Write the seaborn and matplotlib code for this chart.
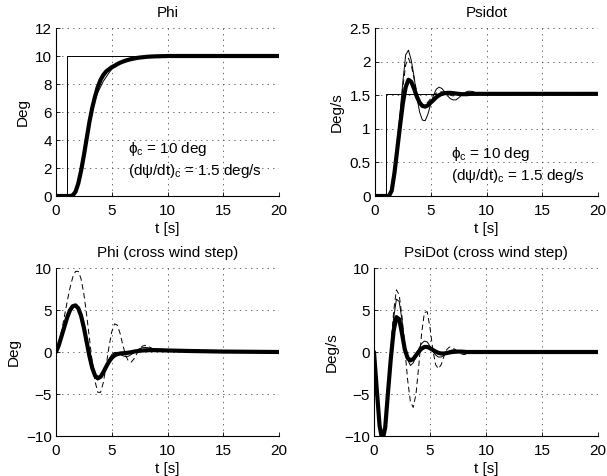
import numpy as np
import matplotlib
matplotlib.use("Agg")
import matplotlib.pyplot as plt
import seaborn as sns

# ---------------- data ----------------
T = [0, 0.25, 0.5, 0.75, 1.0, 1.25, 1.5, 1.75, 2.0, 2.25, 2.5, 2.75, 3.0, 3.25, 3.5, 3.75,
     4.0, 4.25, 4.5, 4.75, 5.0, 5.25, 5.5, 5.75, 6.0, 6.25, 6.5, 6.75, 7.0, 7.25, 7.5, 7.75,
     8.0, 8.25, 8.5, 8.75, 9.0, 9.25, 9.5, 9.75, 10.0, 12.0, 15.0, 20.0]

step_t = [0, 1, 1, 20]
phi_cmd = [0, 0, 10, 10]
psidot_cmd = [0, 0, 1.52, 1.52]

# Phi step response
phi_thick = [0, 0, 0, 0, 0, 0, 0.05, 0.3, 0.9, 1.8, 2.9, 4.1, 5.3, 6.3, 7.1, 7.8,
             8.3, 8.65, 8.9, 9.05, 9.2, 9.3, 9.42, 9.52, 9.6, 9.67, 9.73, 9.78, 9.82, 9.86, 9.89, 9.91,
             9.93, 9.95, 9.96, 9.97, 9.98, 9.98, 9.99, 9.99, 10, 10, 10, 10]
phi_thin = [0, 0, 0, 0, 0, 0, 0.05, 0.3, 0.9, 1.8, 2.9, 4.1, 5.3, 6.2, 6.9, 7.4,
            7.8, 8.2, 8.5, 8.8, 9.05, 9.25, 9.4, 9.5, 9.58, 9.66, 9.72, 9.77, 9.81, 9.85, 9.88, 9.9,
            9.92, 9.94, 9.95, 9.96, 9.97, 9.98, 9.99, 9.99, 10, 10, 10, 10]
phi_dash = [0, 0, 0, 0, 0, 0, 0.05, 0.3, 0.9, 1.8, 2.9, 4.1, 5.3, 6.3, 7.2, 7.9,
            8.4, 8.7, 8.9, 9.05, 9.18, 9.3, 9.42, 9.52, 9.6, 9.67, 9.73, 9.78, 9.82, 9.86, 9.89, 9.91,
            9.93, 9.95, 9.96, 9.97, 9.98, 9.98, 9.99, 9.99, 10, 10, 10, 10]

# Psidot step response
psidot_thick = [0, 0, 0, 0, 0, 0, 0.08, 0.35, 0.7, 1.05, 1.38, 1.62, 1.73, 1.7, 1.6, 1.48,
                1.39, 1.34, 1.33, 1.35, 1.39, 1.43, 1.47, 1.5, 1.52, 1.53, 1.535, 1.535, 1.53, 1.525, 1.52, 1.515,
                1.515, 1.515, 1.52, 1.52, 1.52, 1.52, 1.52, 1.52, 1.52, 1.52, 1.52, 1.52]
psidot_thin = [0, 0, 0, 0, 0, 0, 0.08, 0.37, 0.78, 1.25, 1.7, 2.1, 2.17, 2.02, 1.78, 1.48,
               1.25, 1.13, 1.12, 1.22, 1.37, 1.5, 1.59, 1.62, 1.6, 1.55, 1.49, 1.45, 1.43, 1.43, 1.46, 1.5,
               1.53, 1.555, 1.56, 1.555, 1.54, 1.53, 1.515, 1.51, 1.51, 1.52, 1.52, 1.52]
psidot_dash = [0, 0, 0, 0, 0, 0, 0.08, 0.36, 0.75, 1.2, 1.62, 1.95, 2.05, 1.95, 1.75, 1.55,
               1.42, 1.36, 1.36, 1.4, 1.45, 1.5, 1.53, 1.55, 1.55, 1.54, 1.52, 1.5, 1.49, 1.495, 1.5, 1.51,
               1.52, 1.525, 1.525, 1.52, 1.52, 1.52, 1.52, 1.52, 1.52, 1.52, 1.52, 1.52]

# Phi cross wind step
phiw_thick = [0, 0.8, 1.9, 3.0, 4.1, 4.95, 5.45, 5.55, 5.2, 4.3, 2.9, 1.2, -0.5, -1.9, -2.8, -3.1,
              -2.95, -2.4, -1.75, -1.15, -0.7, -0.4, -0.25, -0.18, -0.15, -0.12, -0.08, -0.02, 0.05, 0.1, 0.15, 0.18,
              0.2, 0.21, 0.22, 0.22, 0.22, 0.21, 0.2, 0.19, 0.18, 0.12, 0.05, 0]
phiw_thin = [0, 0.85, 2.0, 3.15, 4.25, 5.1, 5.55, 5.6, 5.15, 4.15, 2.7, 0.95, -0.8, -2.2, -3.1, -3.35,
             -3.1, -2.45, -1.6, -0.85, -0.3, -0.05, -0.05, -0.25, -0.45, -0.55, -0.5, -0.3, -0.05, 0.2, 0.4, 0.5,
             0.55, 0.5, 0.45, 0.4, 0.35, 0.32, 0.3, 0.28, 0.25, 0.15, 0.05, 0]
phiw_dash = [0, 1.0, 2.5, 4.2, 6.0, 7.6, 8.9, 9.6, 9.6, 8.7, 6.9, 4.4, 1.6, -1.2, -3.5, -4.8,
             -4.8, -3.6, -1.6, 0.6, 2.4, 3.35, 3.2, 2.2, 0.8, -0.4, -1.1, -1.2, -0.8, -0.2, 0.35, 0.7,
             0.8, 0.7, 0.5, 0.35, 0.3, 0.3, 0.32, 0.32, 0.3, 0.15, 0.05, 0]

# PsiDot cross wind step
psidotw_thick = [0, -4.5, -8.8, -10.6, -9.0, -4.8, -0.8, 2.5, 4.15, 3.9, 2.2, 0.3, -0.7, -1.0, -0.85, -0.4,
                 0.05, 0.4, 0.6, 0.6, 0.45, 0.25, 0.05, -0.1, -0.18, -0.18, -0.12, -0.05, 0.0, 0.03, 0.05, 0.05,
                 0.03, 0.0, 0, 0, 0, 0, 0, 0, 0, 0, 0, 0]
psidotw_thin = [0, -4.6, -8.9, -10.7, -9.1, -4.6, 0.0, 4.0, 6.3, 6.0, 3.8, 1.0, -0.9, -1.6, -1.3, -0.5,
                0.4, 1.0, 1.3, 1.2, 0.7, 0.1, -0.35, -0.6, -0.6, -0.4, -0.1, 0.15, 0.25, 0.25, 0.15, 0.05,
                -0.05, -0.08, -0.05, 0, 0, 0, 0, 0, 0, 0, 0, 0]
psidotw_dash = [0, -4.7, -9.0, -10.8, -9.2, -4.6, 0.3, 4.8, 7.4, 6.8, 4.2, 0.5, -3.3, -5.9, -6.6, -5.0,
                -1.6, 2.2, 4.7, 4.8, 2.9, 0.3, -1.5, -2.0, -1.5, -0.5, 0.3, 0.6, 0.5, 0.3, 0.0, -0.2,
                -0.3, -0.25, -0.15, -0.05, 0, 0, 0, 0, 0, 0, 0, 0]

titles = ["Phi", "Psidot", "Phi (cross wind step)", "PsiDot (cross wind step)"]
ylabels = ["Deg", "Deg/s", "Deg", "Deg/s"]
xlabel = "t [s]"
xticks = [0, 5, 10, 15, 20]
yticks_list = [[0, 2, 4, 6, 8, 10, 12], [0, 0.5, 1, 1.5, 2, 2.5], [-10, -5, 0, 5, 10], [-10, -5, 0, 5, 10]]
ytick_labels = [["0", "2", "4", "6", "8", "10", "12"], ["0", "0.5", "1", "1.5", "2", "2.5"],
                ["\u221210", "\u22125", "0", "5", "10"], ["\u221210", "\u22125", "0", "5", "10"]]
note1 = r"$\mathregular{ϕ_c}$ = 10 deg"
note2 = r"$\mathregular{(dψ/dt)_c}$ = 1.5 deg/s"

# ---------------- style ----------------
sns.set_theme(style="ticks")
plt.rcParams["font.family"] = ["Liberation Sans", "DejaVu Sans"]
plt.rcParams["mathtext.fontset"] = "custom"
plt.rcParams["mathtext.rm"] = "Liberation Sans"
plt.rcParams["mathtext.it"] = "Liberation Sans"
plt.rcParams["lines.scale_dashes"] = False
plt.rcParams["axes.unicode_minus"] = True

FS = 11
W, H = 607, 476
fig = plt.figure(figsize=(W / 100, H / 100), dpi=100)
fig.patch.set_facecolor("white")

boxes = [(56, 28, 279, 196), (375, 28, 598, 196), (56, 268, 279, 436), (374, 268, 598, 436)]
axes = []
for (l, t, r, b) in boxes:
    ax = fig.add_axes([l / W, 1 - b / H, (r - l) / W, (b - t) / H])
    axes.append(ax)

series = [
    (step_t, phi_cmd, phi_thin, phi_dash, phi_thick),
    (step_t, psidot_cmd, psidot_thin, psidot_dash, psidot_thick),
    (None, None, phiw_thin, phiw_dash, phiw_thick),
    (None, None, psidotw_thin, psidotw_dash, psidotw_thick),
]
ylims = [(0, 12), (0, 2.5), (-10, 10), (-10, 10)]

for i, ax in enumerate(axes):
    st, sc, thin, dash, thick = series[i]
    if st is not None:
        ax.plot(st, sc, color="black", lw=0.7)
    sns.lineplot(x=T, y=thin, ax=ax, color="black", lw=0.7, estimator=None, sort=False)
    sns.lineplot(x=T, y=dash, ax=ax, color="black", lw=0.7, estimator=None, sort=False,
                 linestyle=(0, (4, 2.5)))
    sns.lineplot(x=T, y=thick, ax=ax, color="black", lw=3.0, estimator=None, sort=False)
    ax.set_xlim(0, 20)
    ax.set_ylim(*ylims[i])
    ax.set_xticks(xticks)
    ax.set_xticklabels([str(x) for x in xticks])
    ax.set_yticks(yticks_list[i])
    ax.set_yticklabels(ytick_labels[i])
    ax.grid(True, linestyle=(0, (1, 3)), color="#555555", lw=0.6)
    for s in ["top", "right"]:
        ax.spines[s].set_visible(False)
    for s in ["left", "bottom"]:
        ax.spines[s].set_color("black")
        ax.spines[s].set_linewidth(0.8)
    ax.tick_params(direction="in", length=3, width=0.6, colors="black", labelsize=FS)
    ax.tick_params(axis="x", pad=6)
    ax.tick_params(axis="y", pad=3)
    ax.set_title(titles[i], fontsize=FS, pad=8, color="black")
    ax.set_xlabel(xlabel, fontsize=FS, labelpad=3, color="black")
    ax.set_ylabel(ylabels[i], fontsize=FS, labelpad=4, color="black")
    ax.set_facecolor("white")

axes[0].text(6.5, 3.1, note1, fontsize=FS, color="black")
axes[0].text(6.5, 1.5, note2, fontsize=FS, color="black")
axes[1].text(6.8, 0.565, note1, fontsize=FS, color="black")
axes[1].text(6.8, 0.24, note2, fontsize=FS, color="black")

fig.savefig("out.png", dpi=100, facecolor="white")
